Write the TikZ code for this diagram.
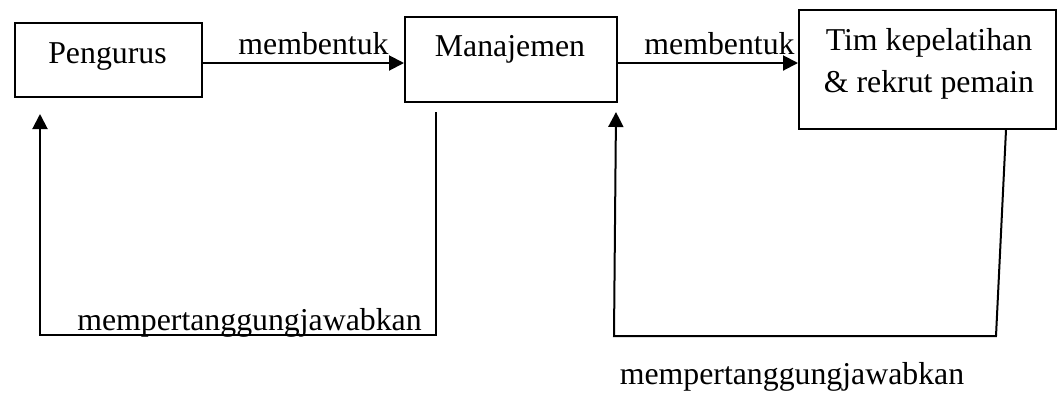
\documentclass[tikz,border=0pt]{standalone}
\usepackage{fontspec}
\setmainfont{Liberation Serif}
\usetikzlibrary{arrows.meta,calc}
\tikzset{
  boxnode/.style={draw=black, line width=2pt, rectangle, anchor=north west, inner sep=0pt},
  txt/.style={anchor=base, inner sep=0pt, font=\fontsize{31.8}{38}\selectfont},
  conn/.style={draw=black, line width=2pt},
  arr/.style={conn, -{Triangle[length=15pt,width=15pt]}}
}
\begin{document}
\begin{tikzpicture}[x=1pt,y=-1pt]
\useasboundingbox (0,0) rectangle (1058,392);
% boxes
\node[boxnode, minimum width=187pt, minimum height=74pt] (peng) at (14,22) {};
\node[boxnode, minimum width=212pt, minimum height=85pt] (man) at (404,16) {};
\node[boxnode, minimum width=257pt, minimum height=119pt] (tim) at (798,9) {};
% box texts
\node[txt] (tpeng) at (107.5,63) {Pengurus};
\node[txt] (tman) at (510,56) {Manajemen};
\node[txt] (ttim1) at (929,50) {Tim kepelatihan};
\node[txt] (ttim2) at (929,92) {\& rekrut pemain};
% forward arrows
\coordinate (a1) at (0,63);
\draw[arr] (peng.east |- a1) -- (man.west |- a1);
\draw[arr] (man.east |- a1) -- (tim.west |- a1);
\node[txt] (lb1) at (313.5,54) {membentuk};
\node[txt] (lb2) at (719.5,54) {membentuk};
% feedback 1
\coordinate (b1r) at (436,335);
\coordinate (b1l) at (40,335);
\draw[arr] ($(man.south -| b1r)+(0,9)$) -- (b1r) -- (b1l) -- ($(peng.south -| b1l)+(0,16)$);
\node[txt] (lb3) at (249.5,330) {mempertanggungjawabkan};
% feedback 2
\coordinate (b2t) at (1006,130);
\coordinate (b2r) at (996,336);
\coordinate (b2l) at (614,336);
\coordinate (b2u) at (616,112);
\draw[arr] (b2t) -- (b2r) -- (b2l) -- (b2u);
\node[txt] (lb4) at (792,384) {mempertanggungjawabkan};
\end{tikzpicture}
\end{document}
